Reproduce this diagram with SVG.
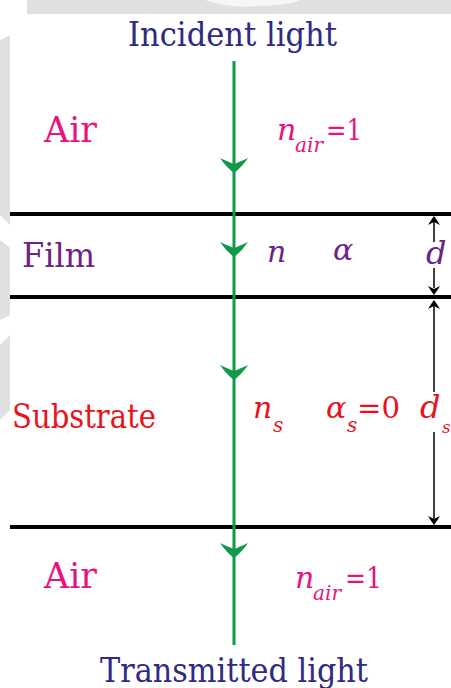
<svg xmlns="http://www.w3.org/2000/svg" width="451" height="688" viewBox="0 0 451 688" font-family="'DejaVu Serif', serif">
<style>
.it{font-style:italic;}
.light{fill:#2e2a85;font-size:34px;}
.air{fill:#e8137f;}
.film{fill:#6b2585;}
.sub{fill:#e8141c;}
.layer{stroke:#000;stroke-width:4;}
.ray{stroke:#0f9a48;stroke-width:3;fill:none;}
.dim{stroke:#000;stroke-width:1.5;fill:none;}
</style>
<defs>
<path id="ah" d="M0,0 Q-8,-6 -14,-15 Q-5,-11 0,-9 Q5,-11 14,-15 Q8,-6 0,0 Z" fill="#0f9a48"/>
<path id="dh" d="M0,0 Q-3,-4 -6,-9 Q-2,-7 0,-6 Q2,-7 6,-9 Q3,-4 0,0 Z" fill="#000"/>
</defs>
<rect width="451" height="688" fill="#fff"/>
<g id="background" fill="#e0e0e0">
<rect x="27" y="0" width="424" height="14"/>
<path d="M205,0 Q230,9 260,6 Q290,5 300,0 Z" fill="#f6f6f6"/>
<polygon points="0,40 10,35 10,225 0,215"/>
<polygon points="0,240 10,248 10,315 0,320"/>
<polygon points="0,345 10,335 10,410 0,420"/>
</g>
<g id="layers">
<line class="layer" x1="10" y1="214" x2="451" y2="214"/>
<line class="layer" x1="10" y1="297" x2="451" y2="297"/>
<line class="layer" x1="10" y1="527" x2="451" y2="527"/>
</g>
<g id="connectors">
<line class="ray" x1="234" y1="61" x2="234" y2="645"/>
<use href="#ah" x="234" y="173"/>
<use href="#ah" x="234" y="257"/>
<use href="#ah" x="234" y="380"/>
<use href="#ah" x="234" y="558"/>
<line class="dim" x1="434" y1="218" x2="434" y2="242"/>
<line class="dim" x1="434" y1="268" x2="434" y2="288"/>
<use href="#dh" transform="translate(434 216) rotate(180)"/>
<use href="#dh" x="434" y="295"/>
<line class="dim" x1="434" y1="303" x2="434" y2="392"/>
<line class="dim" x1="434" y1="432" x2="434" y2="522"/>
<use href="#dh" transform="translate(434 300) rotate(180)"/>
<use href="#dh" x="434" y="525"/>
</g>
<g id="incident"><text class="light" x="128" y="46" textLength="209" lengthAdjust="spacingAndGlyphs">Incident light</text></g>
<g id="transmitted"><text class="light" x="100" y="682" textLength="268" lengthAdjust="spacingAndGlyphs">Transmitted light</text></g>
<g id="air-top" class="air">
<text x="44" y="142" font-size="35" textLength="53" lengthAdjust="spacingAndGlyphs">Air</text>
<text x="277" y="140" font-size="30" class="it">n</text>
<text x="295" y="152" font-size="20" class="it" textLength="28" lengthAdjust="spacingAndGlyphs">air</text>
<text x="326" y="140" font-size="30" textLength="36" lengthAdjust="spacingAndGlyphs">=1</text>
</g>
<g id="film" class="film">
<text x="22" y="267" font-size="34" textLength="73" lengthAdjust="spacingAndGlyphs">Film</text>
<text x="267" y="262" font-size="30" class="it">n</text>
<text x="333" y="260" font-size="30" class="it">α</text>
<text x="426" y="264" font-size="32" class="it">d</text>
</g>
<g id="substrate" class="sub">
<text x="12" y="428" font-size="34" textLength="144" lengthAdjust="spacingAndGlyphs">Substrate</text>
<text x="253" y="418" font-size="30" class="it">n</text>
<text x="273" y="432" font-size="20" class="it">s</text>
<text x="326" y="418" font-size="30" class="it">α</text>
<text x="347" y="432" font-size="20" class="it">s</text>
<text x="357" y="418" font-size="30" textLength="43" lengthAdjust="spacingAndGlyphs">=0</text>
<text x="420" y="418" font-size="32" class="it">d</text>
<text x="442" y="433" font-size="17" class="it">s</text>
</g>
<g id="air-bottom" class="air">
<text x="44" y="588" font-size="35" textLength="53" lengthAdjust="spacingAndGlyphs">Air</text>
<text x="295" y="588" font-size="30" class="it">n</text>
<text x="313" y="600" font-size="20" class="it" textLength="28" lengthAdjust="spacingAndGlyphs">air</text>
<text x="345" y="588" font-size="30" textLength="37" lengthAdjust="spacingAndGlyphs">=1</text>
</g>
</svg>
